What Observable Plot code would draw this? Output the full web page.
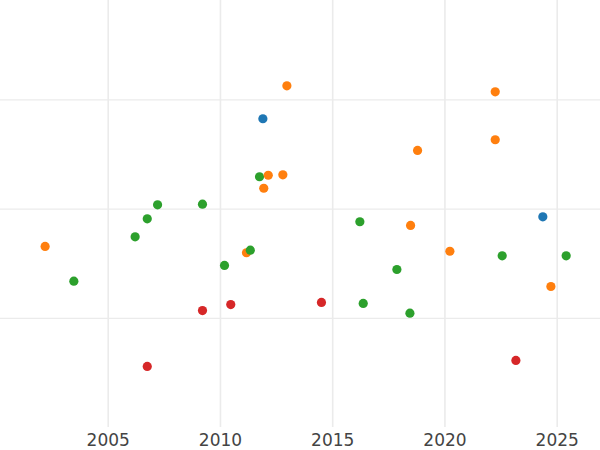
<!DOCTYPE html>
<html>
<head>
<meta charset="utf-8">
<script src="https://cdn.jsdelivr.net/npm/d3@7"></script>
<script src="https://cdn.jsdelivr.net/npm/@observablehq/plot@0.6"></script>
<style>
  html, body { margin: 0; padding: 0; background: #fff; }
  #chart { width: 600px; height: 450px; }
</style>
</head>
<body>
<div id="chart"></div>
<script>
const seriesNames = ["Series A", "Series B", "Series C", "Series D"];
const seriesColors = ["#1f77b4", "#ff7f0e", "#2ca02c", "#d62728"];

const aX = [2011.89, 2024.36];
const aY = [2.827, 1.929];

const bX = [2012.96, 2022.24, 2022.24, 2018.78, 2012.13, 2012.78, 2011.93, 2018.47, 2002.19, 2020.22, 2011.16, 2024.72];
const bY = [3.129, 3.074, 2.635, 2.537, 2.310, 2.314, 2.191, 1.850, 1.658, 1.614, 1.600, 1.291];

const cX = [2011.74, 2007.20, 2009.20, 2006.74, 2016.21, 2006.20, 2011.33, 2022.55, 2025.40, 2010.18, 2017.86, 2003.47, 2016.36, 2018.44];
const cY = [2.296, 2.039, 2.045, 1.911, 1.884, 1.746, 1.624, 1.572, 1.572, 1.484, 1.447, 1.340, 1.136, 1.047];

const dX = [2009.20, 2010.46, 2014.50, 2006.74, 2023.16];
const dY = [1.071, 1.126, 1.145, 0.559, 0.614];

const xTicks = [2005, 2010, 2015, 2020, 2025];
const yGrid = [1, 2, 3];

const seriesX = [aX, bX, cX, dX];
const seriesY = [aY, bY, cY, dY];
const points = [];
seriesNames.forEach((name, i) => {
  seriesX[i].forEach((x, j) => points.push({series: name, year: x, value: seriesY[i][j]}));
});
points.sort((a, b) => a.year - b.year);

const chart = Plot.plot({
  width: 600,
  height: 450,
  marginLeft: 0,
  marginRight: 0,
  marginTop: 0,
  marginBottom: 23,
  style: {fontFamily: "DejaVu Sans", fontSize: "17px", color: "#444", background: "#fff"},
  x: {domain: [2000.203, 2026.929]},
  y: {domain: [0, 3.91]},
  color: {type: "ordinal", domain: seriesNames, range: seriesColors},
  marks: [
    Plot.ruleY(yGrid, {stroke: "#ebebeb", strokeWidth: 1.2}),
    Plot.ruleX(xTicks, {stroke: "#ebebeb", strokeWidth: 1.6}),
    Plot.axisX(xTicks, {tickSize: 0, tickPadding: 6, tickFormat: "d", label: null, fill: "#444"}),
    Plot.axisY({ticks: [], label: null}),
    Plot.dot(points, {x: "year", y: "value", fill: "series", r: 4.6, stroke: "none"})
  ]
});
document.getElementById("chart").appendChild(chart);
</script>
</body>
</html>
